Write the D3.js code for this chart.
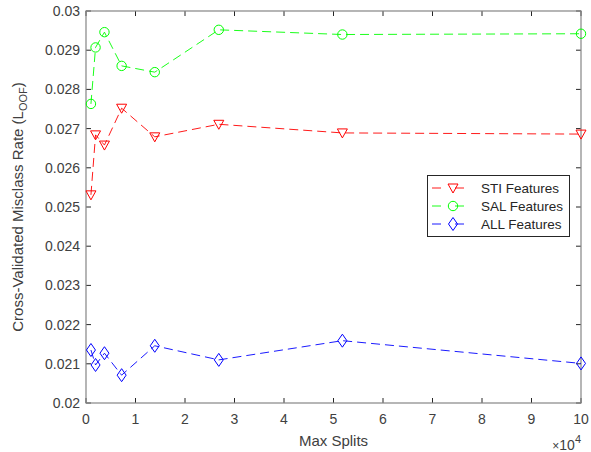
<!DOCTYPE html>
<html>
<head>
<meta charset="utf-8">
<script src="https://cdn.jsdelivr.net/npm/d3@7"></script>
<style>
  html, body { margin: 0; padding: 0; background: #fff; }
  svg { display: block; font-family: "Liberation Sans", Arial, Helvetica, sans-serif; }
</style>
</head>
<body>
<svg id="chart" width="591" height="452"></svg>
<script>
// ---- data (x in units of 1e4) ----
const maxSplits = [0.1, 0.1931, 0.3728, 0.7197, 1.3895, 2.6827, 5.1795, 10];
const stiValues = [0.02531, 0.02684, 0.02658, 0.02752, 0.02679, 0.02711, 0.02689, 0.02686];
const salValues = [0.02763, 0.02907, 0.02946, 0.02860, 0.02844, 0.02952, 0.02940, 0.02942];
const allValues = [0.021352, 0.02097, 0.02127, 0.02071, 0.02146, 0.02110, 0.02159, 0.02101];
const seriesNames = ["STI Features", "SAL Features", "ALL Features"];
const seriesColors = ["#ff0000", "#00ff00", "#0000ff"];
const seriesMarkers = ["triangleDown", "circle", "diamond"];
const xTicks = [0, 1, 2, 3, 4, 5, 6, 7, 8, 9, 10];
const yTicks = [0.02, 0.021, 0.022, 0.023, 0.024, 0.025, 0.026, 0.027, 0.028, 0.029, 0.03];
const yTickLabels = ["0.02", "0.021", "0.022", "0.023", "0.024", "0.025", "0.026", "0.027", "0.028", "0.029", "0.03"];

const svg = d3.select("#chart");
const L = 86, R = 581, T = 11, B = 403;
const x = d3.scaleLinear().domain([0, 10]).range([L, R]);
const y = d3.scaleLinear().domain([0.02, 0.03]).range([B, T]);

const axisColor = "#858585";
const tickColor = "#262626";
const textColor = "#404040";

// ticks (inside, all four sides)
const g = svg.append("g");
const tickLen = 5;
xTicks.forEach(t => {
  g.append("line").attr("x1", x(t)).attr("x2", x(t)).attr("y1", B).attr("y2", B - tickLen)
    .attr("stroke", tickColor).attr("stroke-width", 1);
  g.append("line").attr("x1", x(t)).attr("x2", x(t)).attr("y1", T).attr("y2", T + tickLen)
    .attr("stroke", tickColor).attr("stroke-width", 1);
  g.append("text").attr("x", x(t)).attr("y", 424).attr("text-anchor", "middle")
    .attr("font-size", 14).attr("fill", textColor).text(t);
});
yTicks.forEach((t, i) => {
  g.append("line").attr("x1", L).attr("x2", L + tickLen).attr("y1", y(t)).attr("y2", y(t))
    .attr("stroke", tickColor).attr("stroke-width", 1);
  g.append("line").attr("x1", R).attr("x2", R - tickLen).attr("y1", y(t)).attr("y2", y(t))
    .attr("stroke", tickColor).attr("stroke-width", 1);
  g.append("text").attr("x", 80).attr("y", y(t) + 5).attr("text-anchor", "end")
    .attr("font-size", 14).attr("fill", textColor).text(yTickLabels[i]);
});

// box
svg.append("rect").attr("x", L).attr("y", T).attr("width", R - L).attr("height", B - T)
  .attr("fill", "none").attr("stroke", axisColor).attr("stroke-width", 1.2);

// markers
function markerPath(type) {
  if (type === "triangleDown") return "M-5,-4L5,-4L0,5Z";
  if (type === "diamond") return "M0,-6.5L4.5,0L0,6.5L-4.5,0Z";
  return d3.arc()({innerRadius: 0, outerRadius: 4.7, startAngle: 0, endAngle: 2 * Math.PI});
}

const allSeries = [stiValues, salValues, allValues];
const line = d3.line().x((d, i) => x(maxSplits[i])).y(d => y(d)).curve(d3.curveLinear);

const plot = svg.append("g");
allSeries.forEach((vals, s) => {
  plot.append("path").attr("d", line(vals)).attr("fill", "none")
    .attr("stroke", seriesColors[s]).attr("stroke-width", 0.9)
    .attr("stroke-dasharray", "9,5");
  plot.selectAll(null).data(vals).enter().append("path")
    .attr("transform", (d, i) => `translate(${x(maxSplits[i])},${y(d)})`)
    .attr("d", markerPath(seriesMarkers[s]))
    .attr("fill", "none").attr("stroke", seriesColors[s]).attr("stroke-width", 1);
});

// legend
const lg = svg.append("g");
lg.append("rect").attr("x", 427.5).attr("y", 175.5).attr("width", 142).attr("height", 61)
  .attr("fill", "#fff").attr("stroke", "#262626").attr("stroke-width", 1);
seriesNames.forEach((name, s) => {
  const cy = 188 + s * 18;
  lg.append("line").attr("x1", 432).attr("x2", 477).attr("y1", cy).attr("y2", cy)
    .attr("stroke", seriesColors[s]).attr("stroke-width", 0.9).attr("stroke-dasharray", "9,14");
  lg.append("path").attr("transform", `translate(453,${cy})`).attr("d", markerPath(seriesMarkers[s]))
    .attr("fill", "none").attr("stroke", seriesColors[s]).attr("stroke-width", 1);
  lg.append("text").attr("x", 481).attr("y", cy + 5).attr("font-size", 13.5)
    .attr("fill", "#262626").text(name);
});

// axis labels
svg.append("text").attr("x", (L + R) / 2).attr("y", 446).attr("text-anchor", "middle")
  .attr("font-size", 15).attr("fill", textColor).text("Max Splits");

const exp = svg.append("text").attr("x", 581).attr("y", 450).attr("text-anchor", "end")
  .attr("font-size", 14).attr("fill", textColor);
exp.append("tspan").attr("font-size", 12).text("\u00d7");
exp.append("tspan").text("10");
exp.append("tspan").attr("dy", -7).attr("font-size", 11).text("4");

const yl = svg.append("text").attr("transform", `translate(23,${(T + B) / 2}) rotate(-90)`)
  .attr("text-anchor", "middle").attr("font-size", 15).attr("fill", textColor);
yl.append("tspan").text("Cross-Validated Misclass Rate (L");
yl.append("tspan").attr("font-size", 11).attr("dy", 4).text("OOF");
yl.append("tspan").attr("dy", -4).text(")");
</script>
</body>
</html>
